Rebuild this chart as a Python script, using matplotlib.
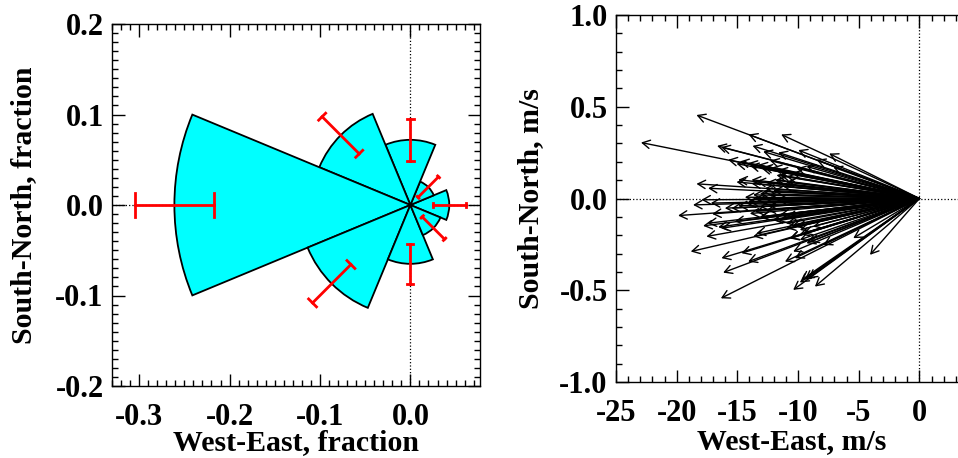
import numpy as np
import matplotlib.pyplot as plt
from matplotlib.patches import Wedge
from matplotlib.ticker import MultipleLocator, FormatStrFormatter

plt.rcParams['font.family'] = ['Liberation Serif', 'DejaVu Serif']
plt.rcParams['font.weight'] = 'bold'
plt.rcParams['axes.unicode_minus'] = False

# wind rose: sector direction (deg, math convention), fraction and error
directions = [0, 45, 90, 135, 180, 225, 270, 315]
fractions = [0.043, 0.028, 0.072, 0.109, 0.261, 0.123, 0.065, 0.036]
errors = [0.0185, 0.016, 0.023, 0.029, 0.044, 0.030, 0.022, 0.0175]

# wind vectors (m/s)
u_wind = [-18.37, -22.94, -14.08, -11.39, -7.43, -16.67, -16.34, -13.75, -12.87, -11.63,
          -9.98, -15.76, -14.80, -14.11, -13.28, -12.32, -7.10, -10.12, -13.01, -11.63,
          -11.50, -11.77, -18.37, -17.41, -14.93, -13.83, -13.42, -12.60, -12.73, -12.05,
          -14.38, -13.70, -12.87, -12.32, -18.65, -17.96, -17.19, -19.88, -17.08, -16.03,
          -15.48, -14.93, -14.11, -17.82, -17.46, -16.58, -16.31, -15.21, -13.56, -17.55,
          -13.70, -12.05, -10.95, -10.67, -9.85, -9.30, -7.92, -5.45, -18.84, -16.31,
          -14.66, -14.11, -16.17, -11.08, -10.26, -10.40, -4.07, -9.71, -9.16, -10.40,
          -8.61, -16.36, -9.43, -9.85, -13.42, -13.15, -12.60, -11.50, -10.95, -10.40,
          -9.85, -12.60, -11.77, -11.22, -10.95, -9.30, -8.47, -8.75, -9.85,
          -15.07, -13.83, -15.07, -13.97, -12.87, -11.77, -11.90, -13.14, -13.56, -14.24,
          -13.97, -13.14, -12.05, -10.94, -10.12, -9.57, -9.02, -13.42, -10.67, -12.40,
          -11.00, -10.50, -12.10, -13.10, -11.60]
v_wind = [0.455, 0.305, 0.349, 0.349, 0.245, 0.287, 0.280, 0.287, 0.256, 0.251,
          0.264, 0.211, 0.202, 0.193, 0.184, 0.207, 0.171, 0.165, 0.165, 0.156,
          0.129, 0.102, 0.080, 0.056, 0.102, 0.102, 0.093, 0.087, 0.056, 0.044,
          0.007, 0.020, 0.038, 0.020, -0.035, -0.007, -0.025, -0.093, -0.084, -0.053,
          -0.053, -0.040, -0.016, -0.149, -0.135, -0.156, -0.162, -0.125, -0.071, -0.207,
          -0.207, -0.116, -0.162, -0.216, -0.195, -0.244, -0.253, -0.216, -0.289, -0.325,
          -0.298, -0.344, -0.404, -0.344, -0.325, -0.289, -0.307, -0.444, -0.435, -0.498,
          -0.480, -0.544, -0.440, -0.458, -0.007, -0.044, -0.062, -0.089, -0.098, -0.144,
          -0.171, -0.007, -0.007, 0.065, 0.120, 0.175, 0.211, -0.153, -0.225,
          0.090, 0.082, 0.190, 0.180, 0.172, 0.127, 0.100, 0.027, 0.000, -0.027,
          -0.082, -0.100, -0.118, -0.136, -0.155, -0.190, -0.237, -0.190, -0.218, -0.040,
          0.090, 0.140, 0.170, -0.100, -0.120]

fig = plt.figure(figsize=(9.58, 4.58), dpi=100)
ax1 = fig.add_axes([112/958, 72/458, 368/958, 362/458])
ax2 = fig.add_axes([616/958, 76/458, 358/958, 367/458])

fs_tick = 22
fs_lab = 21.5

# ---- left panel: wind rose
ax1.axhline(0, color='k', ls=':', lw=0.9, zorder=0)
ax1.axvline(0, color='k', ls=':', lw=0.9, zorder=0)
for d, f in zip(directions, fractions):
    ax1.add_patch(Wedge((0, 0), f, d - 22.5, d + 22.5, facecolor='cyan',
                        edgecolor='black', lw=1.3, zorder=2))
for d, f, e in zip(directions, fractions, errors):
    a = np.deg2rad(d)
    c, s = np.cos(a), np.sin(a)
    cap = 0.05 * f
    r0, r1 = f - e, f + e
    ax1.plot([r0*c, r1*c], [r0*s, r1*s], color='red', lw=2, zorder=3)
    for r in (r0, r1):
        ax1.plot([r*c - cap*s, r*c + cap*s], [r*s + cap*c, r*s - cap*c],
                 color='red', lw=2, zorder=3)
ax1.set_xlim(-0.33, 0.077)
ax1.set_ylim(-0.2, 0.2)
ax1.xaxis.set_major_locator(MultipleLocator(0.1))
ax1.xaxis.set_minor_locator(MultipleLocator(0.01))
ax1.yaxis.set_major_locator(MultipleLocator(0.1))
ax1.yaxis.set_minor_locator(MultipleLocator(0.01))
ax1.xaxis.set_major_formatter(FormatStrFormatter('%.1f'))
ax1.yaxis.set_major_formatter(FormatStrFormatter('%.1f'))
ax1.set_xlabel('West-East, fraction', fontsize=fs_lab, fontweight='bold')
ax1.set_ylabel('South-North, fraction', fontsize=fs_lab, fontweight='bold')
ax1.xaxis.set_label_coords(0.5, -0.12)
ax1.yaxis.set_label_coords(-0.203, 0.5)

# ---- right panel: wind vectors
ax2.axhline(0, color='k', ls=':', lw=0.9, zorder=0)
ax2.axvline(0, color='k', ls=':', lw=0.9, zorder=0)
for u, v in zip(u_wind, v_wind):
    ax2.annotate('', xy=(u, v), xytext=(0, 0),
                 arrowprops=dict(arrowstyle='->,head_length=0.45,head_width=0.25',
                                 color='black', lw=1.0, shrinkA=0, shrinkB=0,
                                 mutation_scale=12))
ax2.set_xlim(-25, 4.5)
ax2.set_ylim(-1, 1)
ax2.xaxis.set_major_locator(MultipleLocator(5))
ax2.xaxis.set_minor_locator(MultipleLocator(1))
ax2.yaxis.set_major_locator(MultipleLocator(0.5))
ax2.yaxis.set_minor_locator(MultipleLocator(0.1))
ax2.yaxis.set_major_formatter(FormatStrFormatter('%.1f'))
ax2.set_xlabel('West-East, m/s', fontsize=fs_lab, fontweight='bold')
ax2.set_ylabel('South-North, m/s', fontsize=fs_lab, fontweight='bold')
ax2.xaxis.set_label_coords(0.49, -0.125)
ax2.yaxis.set_label_coords(-0.2, 0.5)

for ax in (ax1, ax2):
    ax.tick_params(which='both', direction='in', top=True, right=True,
                   labelsize=fs_tick, width=1)
    ax.tick_params(which='major', length=9)
    ax.tick_params(which='minor', length=4.5)
    ax.tick_params(axis='x', pad=12)
    ax.tick_params(axis='y', pad=6)
    for lab in ax.get_xticklabels() + ax.get_yticklabels():
        lab.set_fontweight('bold')
    for sp in ax.spines.values():
        sp.set_linewidth(1)

fig.savefig('out.png', dpi=100)
